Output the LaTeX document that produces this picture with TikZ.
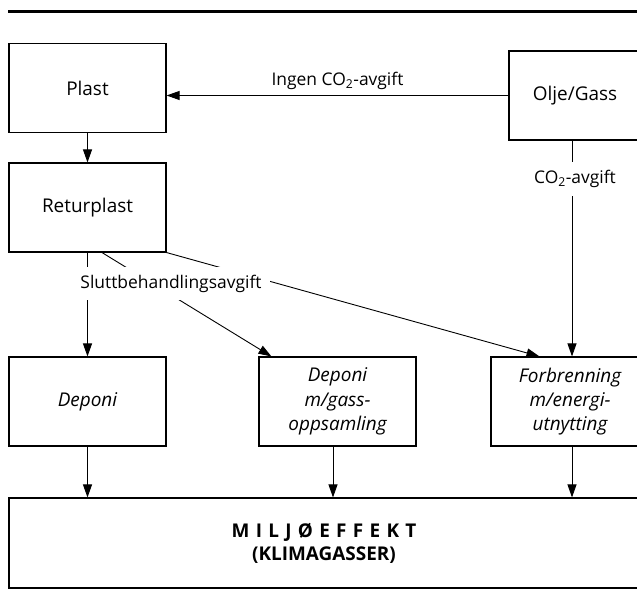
\documentclass[tikz,border=0pt]{standalone}
\usepackage{fontspec}
\setmainfont{Open Sans}
\usetikzlibrary{arrows.meta}
\begin{document}
\begin{tikzpicture}[x=1bp,y=-1bp,
  box/.style={draw, line width=1.1bp, minimum width=157bp, minimum height=89bp, inner sep=0pt, align=center, font=\fontsize{19}{24.5}\selectfont},
  arr/.style={line width=0.9bp, -{Triangle[length=13bp,width=9bp]}},
  lab/.style={fill=white, inner xsep=8bp, inner ysep=0pt, minimum height=33bp, font=\fontsize{17.5}{21}\selectfont},
  toplab/.style={inner sep=0pt, font=\fontsize{17.5}{21}\selectfont}]
\useasboundingbox (0,0) rectangle (637,610);
\clip (0,0) rectangle (637,610);
\draw[line width=3bp] (8,12) -- (645,12);
% boxes
\node[box, minimum height=89bp] (plast) at (87.5,88) {Plast};
\node[box, minimum width=132bp] (olje) at (575,95.5) {Olje/Gass};
\node[box] (ret) at (87.5,207.5) {Returplast};
\node[box] (dep) at (87.5,401.5) {\itshape Deponi};
\node[box] (dmg) at (337.5,401.5) {\itshape Deponi\\ \itshape m/gass-\\ \itshape oppsamling};
\node[box, minimum width=158bp] (forb) at (570,401.5) {\itshape Forbrenning\\ \itshape m/energi-\\ \itshape utnytting};
\node[box, minimum width=630bp, minimum height=90bp, font=\fontsize{19}{23}\selectfont] (milj) at (324,543) {\bfseries M\,\,I\,\,L\,\,J\,\,Ø\,\,E\,\,F\,\,F\,\,E\,\,K\,\,T\\ \bfseries (KLIMAGASSER)};
% connectors
\draw[arr] (olje.west) -- (plast.east |- olje.west)
  node[toplab, midway, above=5bp] {Ingen CO\textsubscript{2}-avgift};
\draw[arr] (plast.south) -- (ret.north);
\draw[arr] (olje.south -| 572,0) -- (forb.north -| 572,0);
\draw[arr] (ret.south) -- (dep.north);
\draw[arr] ([xshift=14.5bp]ret.south) -- ([xshift=13bp]dmg.north west);
\draw[arr] (ret.south east) -- ([xshift=49bp]forb.north west);
\draw[arr] (dep.south) -- (milj.north -| dep.south);
\draw[arr] (dmg.south -| 333,0) -- (milj.north -| 333,0);
\draw[arr] (forb.south -| 572,0) -- (milj.north -| 572,0);
% labels over lines
\node[lab] (co2) at (575,179) {CO\textsubscript{2}-avgift};
\node[lab] (slutt) at (171,283.5) {Sluttbehandlingsavgift};
\end{tikzpicture}
\end{document}
